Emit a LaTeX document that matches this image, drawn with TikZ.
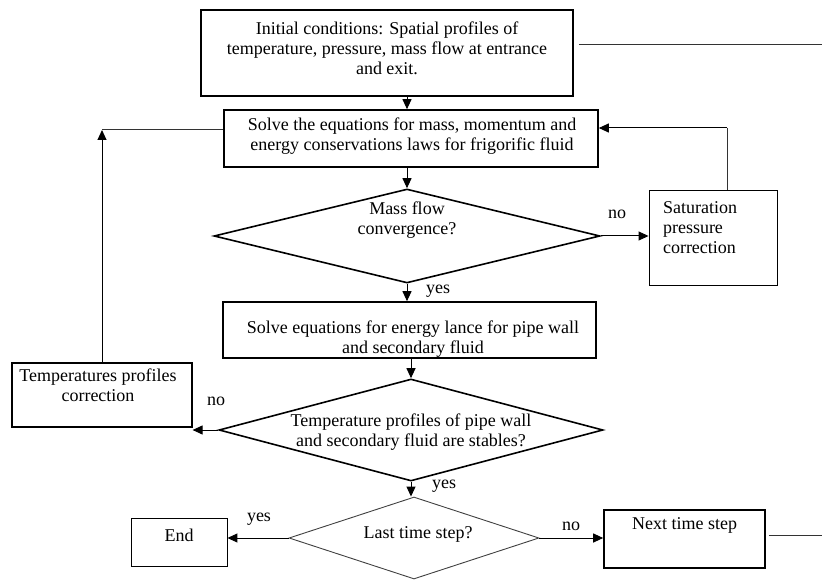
\documentclass[tikz,border=0pt]{standalone}
\usepackage{fontspec}
\setmainfont{Liberation Serif}
\usetikzlibrary{arrows.meta,shapes.geometric,calc}
\begin{document}
\begin{tikzpicture}[x=1pt,y=-1pt,
  every node/.style={font=\fontsize{18}{20}\selectfont},
  box/.style={draw, rectangle, inner sep=0pt, line width=1.6pt},
  thinbox/.style={draw, rectangle, inner sep=0pt, line width=0.9pt},
  dia/.style={draw, diamond, inner sep=0pt, line width=1.6pt},
  thindia/.style={draw=black!75, diamond, inner sep=0pt, line width=0.9pt},
  lab/.style={inner sep=0pt, align=center},
  conn/.style={line width=1pt, -{Triangle[length=10pt,width=9pt]}},
  plain/.style={line width=1pt, draw=black!80}]
\useasboundingbox (0,0) rectangle (822,580);

\node[box, minimum width=372pt, minimum height=86pt,
  label={[lab,yshift=4.5pt]center:{Initial conditions: Spatial profiles of\\temperature, pressure, mass flow at entrance\\and exit.}}] (b1) at (387,53) {};
\node[box, minimum width=374pt, minimum height=57pt,
  label={[lab,yshift=2pt,xshift=1pt]center:{Solve the equations for mass, momentum and\\energy conservations laws for frigorific fluid}}] (b2) at (411,138.5) {};
\node[dia, minimum width=386pt, minimum height=94pt,
  label={[lab,yshift=16pt]center:{Mass flow\\convergence?}}] (d1) at (407,236) {};
\node[thinbox, minimum width=128pt, minimum height=95pt,
  label={[lab,align=left,xshift=-13pt,yshift=9.5pt]center:{Saturation\\pressure\\correction}}] (sat) at (713,237.5) {};
\node[box, minimum width=373pt, minimum height=56pt,
  label={[lab,xshift=3.5pt,yshift=-9pt]center:{Solve equations for energy lance for pipe wall\\and secondary fluid}}] (b3) at (409.5,330) {};
\node[dia, minimum width=384pt, minimum height=102pt,
  label={[lab,yshift=-2pt]center:{Temperature profiles of pipe wall\\and secondary fluid are stables?}}] (d2) at (411,430) {};
\node[box, line width=1.2pt, minimum width=180pt, minimum height=64pt,
  label={[lab,xshift=-4pt,yshift=9.5pt]center:{Temperatures profiles\\correction}}] (tpc) at (102,395) {};
\node[thindia, minimum width=250pt, minimum height=82pt,
  label={[lab,xshift=4pt,yshift=4pt]center:{Last time step?}}] (d3) at (414,538) {};
\node[thinbox, minimum width=96pt, minimum height=48pt,
  label={[lab,yshift=7pt]center:{End}}] (end) at (179,542) {};
\node[box, minimum width=161pt, minimum height=58pt,
  label={[lab,yshift=14pt]center:{Next time step}}] (next) at (684.5,539) {};

\coordinate (c1) at (727,128);
\coordinate (c2) at (102,130);
\coordinate (c3) at (822,535);
\coordinate (c4) at (822,45);

\draw[conn] (b1.south -| d1.north) -- (b2.north -| d1.north);
\draw[conn] (b2.south -| d1.north) -- (d1.north);
\draw[conn] (d1.east) -- (sat.west |- d1.east);
\draw[plain] (sat.north -| c1) -- (c1);
\draw[conn] (c1) -- (b2.east |- c1);
\draw[conn] (d1.south) -- (b3.north -| d1.south);
\draw[conn] (b3.south -| d2.north) -- (d2.north);
\draw[conn] (d2.west) -- (tpc.east |- d2.west);
\draw[conn] (tpc.north) -- (c2);
\draw[plain] (c2) -- (b2.west |- c2);
\draw[conn] (d2.south) -- (d2.south |- d3.north);
\draw[conn] (d3.west) -- (end.east |- d3.west);
\draw[conn] (d3.east) -- (next.west |- d3.east);
\draw[plain] ($(next.east |- c3)+(3,0)$) -- (c3);
\draw[plain] ($(b1.east |- c4)+(5,0)$) -- (c4);

\node[lab] (n1) at (617,214) {no};
\node[lab] (y1) at (438,291) {yes};
\node[lab] (n2) at (216,401) {no};
\node[lab] (y2) at (444,486) {yes};
\node[lab] (y3) at (259,519) {yes};
\node[lab] (n3) at (571,526) {no};
\end{tikzpicture}
\end{document}
